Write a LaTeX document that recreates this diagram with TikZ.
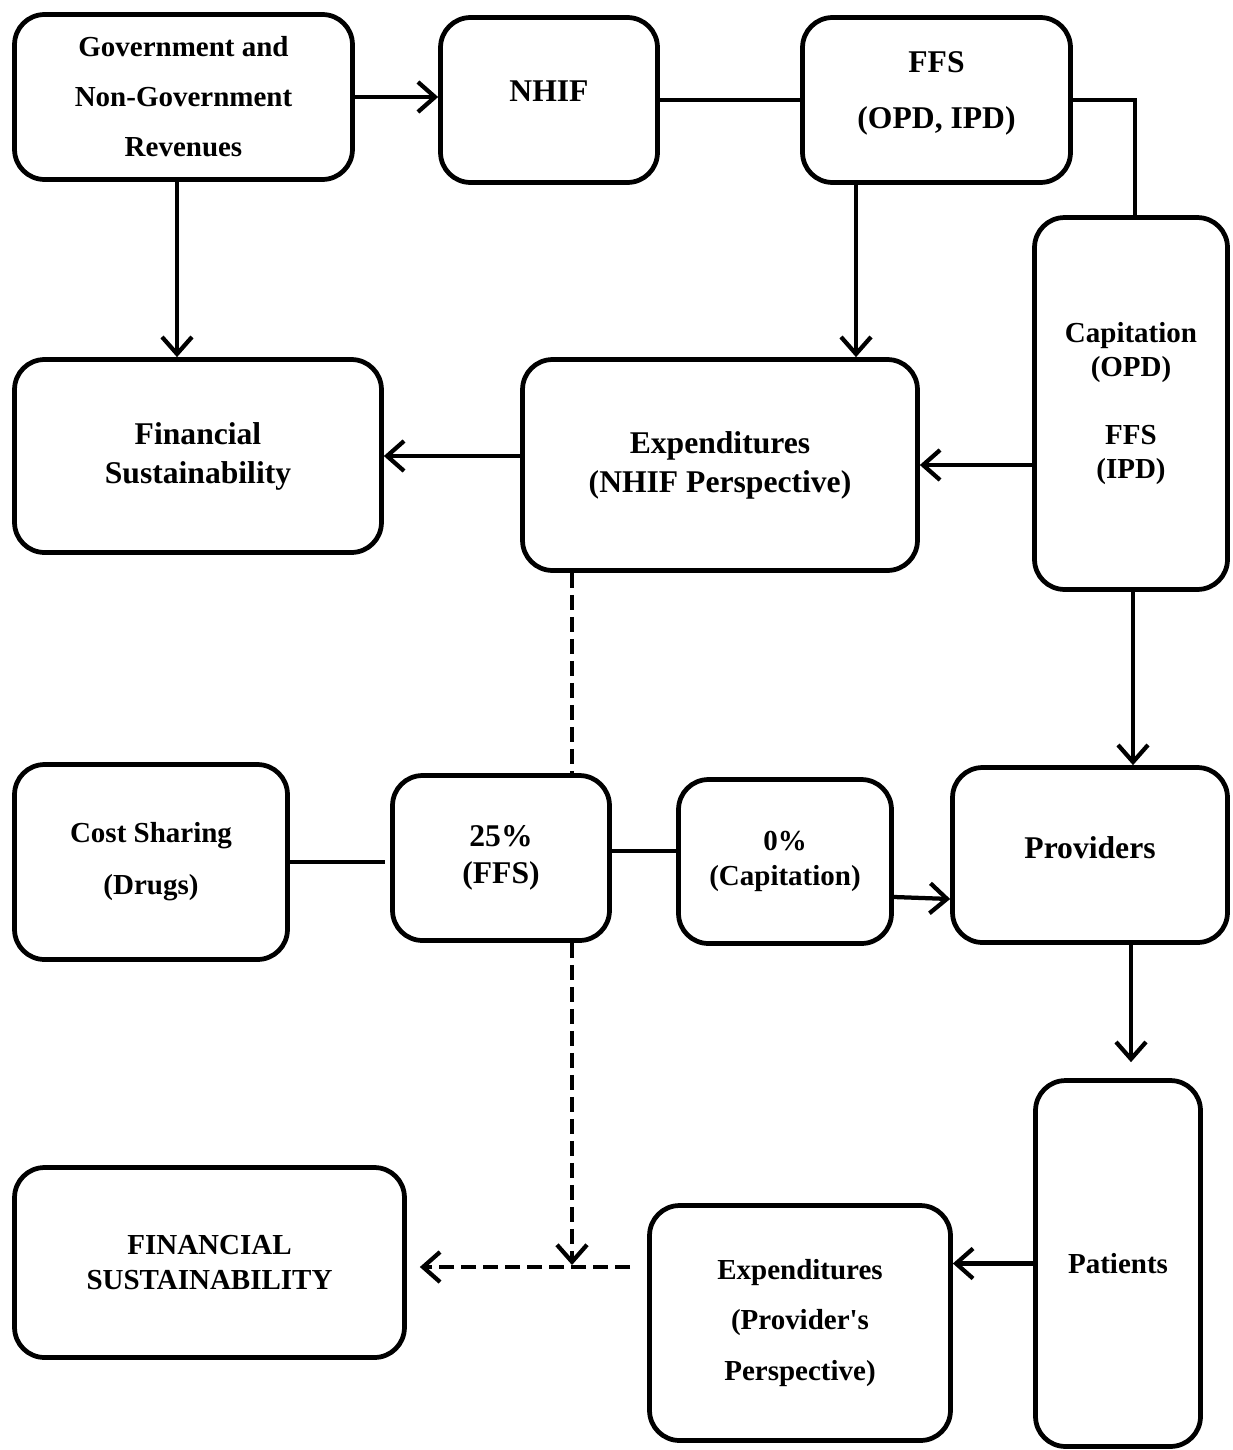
\documentclass[tikz,border=0pt]{standalone}
\usepackage{fontspec}
\setmainfont{Liberation Serif}
\usetikzlibrary{arrows.meta}
\begin{document}
\begin{tikzpicture}[x=0.02cm,y=-0.02cm,
    box/.style={draw, line width=0.095cm, rounded corners=0.6cm, align=center, inner sep=0pt, font=\bfseries},
    arr/.style={line width=0.085cm, -{Straight Barb[length=0.34cm,width=0.6cm,line width=0.085cm]}},
    link/.style={line width=0.085cm},
    broken/.style={line width=0.085cm, dash pattern=on 0.3cm off 0.14cm}]
  \useasboundingbox (0,0) rectangle (1232,1450);
  % boxes
  \node[box, minimum width=6.76cm, minimum height=3.3cm, font=\bfseries\fontsize{16.5}{28.5}\selectfont] (gov) at (183.5,97) {Government and\\Non-Government\\Revenues};
  \node[box, minimum width=4.34cm, minimum height=3.3cm, text depth=10pt, font=\bfseries\fontsize{18}{22}\selectfont] (nhif) at (549,100) {NHIF};
  \node[box, minimum width=5.36cm, minimum height=3.3cm, text depth=11pt, font=\bfseries\fontsize{18}{31.9}\selectfont] (ffs) at (936.5,100) {FFS\\(OPD, IPD)};
  \node[box, minimum width=3.86cm, minimum height=7.44cm, font=\bfseries\fontsize{16.5}{19.4}\selectfont] (cap) at (1131,403.5) {Capitation\\(OPD)\\[19.4pt]FFS\\(IPD)};
  \node[box, minimum width=7.34cm, minimum height=3.86cm, font=\bfseries\fontsize{18}{22.2}\selectfont] (fin) at (198,456) {Financial\\Sustainability};
  \node[box, minimum width=7.9cm, minimum height=4.22cm, font=\bfseries\fontsize{18}{22.2}\selectfont] (exp) at (720,465) {Expenditures\\(NHIF Perspective)};
  \node[box, minimum width=5.46cm, minimum height=3.9cm, font=\bfseries\fontsize{16.5}{29.6}\selectfont] (cost) at (151,862) {Cost Sharing\\(Drugs)};
  \node[box, minimum width=4.34cm, minimum height=3.3cm, font=\bfseries\fontsize{18}{21}\selectfont] (p25) at (501,858) {25\%\\(FFS)};
  \node[box, minimum width=4.26cm, minimum height=3.28cm, font=\bfseries\fontsize{16.5}{20}\selectfont] (p0) at (785,861.5) {0\%\\(Capitation)};
  \node[box, minimum width=5.5cm, minimum height=3.5cm, text depth=8pt, font=\bfseries\fontsize{18}{22}\selectfont] (prov) at (1090,855) {Providers};
  \node[box, minimum width=3.3cm, minimum height=7.32cm, font=\bfseries\fontsize{16.5}{20}\selectfont] (pat) at (1118,1263.5) {Patients};
  \node[box, minimum width=7.8cm, minimum height=3.8cm, font=\bfseries\fontsize{16.5}{19.4}\selectfont] (fsus) at (209.5,1262.5) {FINANCIAL\\SUSTAINABILITY};
  \node[box, minimum width=6.02cm, minimum height=4.7cm, font=\bfseries\fontsize{16.5}{29}\selectfont] (exp2) at (800,1323) {Expenditures\\(Provider\textquotesingle s\\Perspective)};
  % free ends
  \coordinate (dv) at (572,0);
  \coordinate (jn) at (572,1265);
  \coordinate (dl) at (630,1267);
  % connectors
  \draw[arr] (gov.east) -- (gov.east -| nhif.west);
  \draw[link] (nhif.east) -- (ffs.west);
  \draw[link] (ffs.east) -| ([xshift=0.08cm]cap.north);
  \draw[arr] ([xshift=-0.13cm]gov.south) -- ([xshift=-0.13cm]gov.south |- fin.north);
  \draw[arr] ([xshift=-1.61cm]ffs.south) -- ([xshift=-1.61cm]ffs.south |- exp.north);
  \draw[arr] (cap.west |- exp.east) -- (exp.east);
  \draw[arr] (exp.west |- fin.east) -- (fin.east);
  \draw[broken] (exp.south -| dv) -- (p25.north -| dv);
  \draw[link] (cost.east) -- ([xshift=-0.1cm]cost.east -| p25.west);
  \draw[link] ([yshift=0.14cm]p25.east) -- ([yshift=0.14cm]p25.east -| p0.west);
  \draw[arr] ([yshift=-0.71cm]p0.east) -- ([yshift=-0.88cm]prov.west);
  \draw[arr] ([xshift=0.04cm]cap.south) -- ([xshift=0.04cm]cap.south |- prov.north);
  \draw[arr, shorten >=0.32cm] (prov.south -| cap.south) -- (pat.north -| cap.south);
  \draw[arr] (pat.west) -- (pat.west -| exp2.east);
  \draw[broken, -{Straight Barb[length=0.34cm,width=0.6cm,line width=0.085cm]}] (p25.south -| dv) -- (jn);
  \draw[broken, shorten >=0.26cm, -{Straight Barb[length=0.34cm,width=0.6cm,line width=0.085cm]}] (dl) -- (dl -| fsus.east);
\end{tikzpicture}
\end{document}
